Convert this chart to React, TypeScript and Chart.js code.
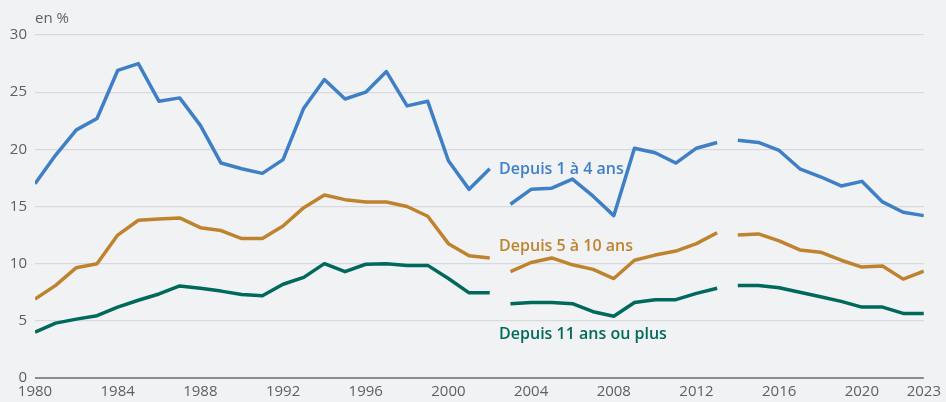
import React, { useEffect, useRef } from "react";
import { Chart, registerables } from "chart.js";

Chart.register(...registerables);

const years = [
  1980, 1981, 1982, 1983, 1984, 1985, 1986, 1987, 1988, 1989,
  1990, 1991, 1992, 1993, 1994, 1995, 1996, 1997, 1998, 1999,
  2000, 2001, 2002, 2003, 2004, 2005, 2006, 2007, 2008, 2009,
  2010, 2011, 2012, 2013, 2014, 2015, 2016, 2017, 2018, 2019,
  2020, 2021, 2022, 2023,
];

const depuis1a4 = [
  17.0, 19.5, 21.7, 22.7, 26.9, 27.5, 24.2, 24.5, 22.1, 18.8,
  18.3, 17.9, 19.1, 23.6, 26.1, 24.4, 25.0, 26.8, 23.8, 24.2,
  19.0, 16.5, 18.3, 15.2, 16.5, 16.6, 17.4, 15.9, 14.2, 20.1,
  19.7, 18.8, 20.1, 20.6, 20.8, 20.6, 19.9, 18.3, 17.6, 16.8,
  17.2, 15.4, 14.5, 14.2,
];

const depuis5a10 = [
  6.9, 8.1, 9.65, 10.0, 12.5, 13.8, 13.9, 14.0, 13.15, 12.9,
  12.2, 12.2, 13.3, 14.9, 16.0, 15.6, 15.4, 15.4, 15.0, 14.15,
  11.75, 10.7, 10.5, 9.3, 10.1, 10.5, 9.9, 9.5, 8.7, 10.3,
  10.75, 11.1, 11.75, 12.7, 12.5, 12.6, 12.0, 11.2, 11.0, 10.3,
  9.7, 9.8, 8.65, 9.35,
];

const depuis11plus = [
  4.0, 4.8, 5.15, 5.45, 6.2, 6.8, 7.35, 8.05, 7.85, 7.6,
  7.3, 7.2, 8.2, 8.8, 10.0, 9.3, 9.95, 10.0, 9.85, 9.85,
  8.7, 7.45, 7.45, 6.5, 6.6, 6.6, 6.5, 5.8, 5.4, 6.6,
  6.85, 6.85, 7.4, 7.85, 8.1, 8.1, 7.9, 7.5, 7.1, 6.7,
  6.2, 6.2, 5.65, 5.65,
];

const gapAfterYears = [2002, 2013];
const xTickYears = [1980, 1984, 1988, 1992, 1996, 2000, 2004, 2008, 2012, 2016, 2020, 2023];
const yTickValues = [0, 5, 10, 15, 20, 25, 30];

const seriesNames = ["Depuis 1 à 4 ans", "Depuis 5 à 10 ans", "Depuis 11 ans ou plus"];
const seriesColors = ["#3f7fc6", "#bf8330", "#00695c"];
const labelYears = [2002.45, 2002.45, 2002.45];
const labelValues = [18.2, 11.55, 3.85];

const FONT = "'Open Sans', 'Noto Sans', sans-serif";

export default function App() {
  const canvasRef = useRef<HTMLCanvasElement | null>(null);

  useEffect(() => {
    document.body.style.margin = "0";
    const canvas = canvasRef.current;
    if (!canvas) return;

    const seriesData = [depuis1a4, depuis5a10, depuis11plus];

    const labelPlugin = {
      id: "seriesLabels",
      afterDatasetsDraw(chart: any) {
        const { ctx, scales, chartArea } = chart;
        ctx.save();
        ctx.font = `600 16px ${FONT}`;
        ctx.textBaseline = "middle";
        ctx.textAlign = "left";
        seriesNames.forEach((name, i) => {
          ctx.fillStyle = seriesColors[i];
          ctx.fillText(name, scales.x.getPixelForValue(labelYears[i]), scales.y.getPixelForValue(labelValues[i]));
        });
        ctx.font = `15px ${FONT}`;
        ctx.fillStyle = "#5f5f5f";
        ctx.fillText("en %", chartArea.left, chartArea.top - 16);
        ctx.restore();
      },
    };

    const chart = new Chart(canvas, {
      type: "line",
      data: {
        datasets: seriesData.map((arr, i) => ({
          label: seriesNames[i],
          data: years.map((x, j) => ({ x, y: arr[j] })),
          borderColor: seriesColors[i],
          borderWidth: 3.5,
          pointRadius: 0,
          pointHoverRadius: 0,
          tension: 0,
          fill: false,
          borderJoinStyle: "round" as const,
          borderCapStyle: "butt" as const,
          segment: {
            borderColor: (c: any) =>
              gapAfterYears.includes(c.p0.parsed.x) ? "rgba(0,0,0,0)" : undefined,
          },
        })),
      },
      options: {
        animation: false,
        responsive: false,
        maintainAspectRatio: false,
        events: [],
        layout: { padding: { left: 0, top: 35, right: 16, bottom: 0 } },
        plugins: {
          legend: { display: false },
          tooltip: { enabled: false },
          title: { display: false },
        },
        scales: {
          x: {
            type: "linear",
            min: 1980,
            max: 2023,
            afterBuildTicks: (scale: any) => {
              scale.ticks = xTickYears.map((v) => ({ value: v }));
            },
            afterFit: (scale: any) => {
              scale.height = 24;
            },
            grid: { display: false, drawTicks: false },
            border: { display: false },
            ticks: {
              autoSkip: false,
              maxRotation: 0,
              padding: 5,
              color: "#5f5f5f",
              font: { family: FONT, size: 15 },
              callback: (v: any) => String(v),
            },
          },
          y: {
            min: 0,
            max: 30,
            afterBuildTicks: (scale: any) => {
              scale.ticks = yTickValues.map((v) => ({ value: v }));
            },
            afterFit: (scale: any) => {
              scale.width = 35;
            },
            grid: {
              drawTicks: false,
              color: (c: any) => (c.tick && c.tick.value === 0 ? "#8c8c8c" : "#d7d9dc"),
              lineWidth: (c: any) => (c.tick && c.tick.value === 0 ? 2 : 1.2),
            },
            border: { display: false },
            ticks: {
              padding: 8,
              color: "#5f5f5f",
              font: { family: FONT, size: 15 },
              callback: (v: any) => String(v),
            },
          },
        },
      },
      plugins: [labelPlugin],
    } as any);

    return () => chart.destroy();
  }, []);

  return (
    <div style={{ width: 946, height: 402, background: "#f1f2f4", position: "relative" }}>
      <canvas ref={canvasRef} width={946} height={402} style={{ display: "block", width: 946, height: 402 }} />
    </div>
  );
}
